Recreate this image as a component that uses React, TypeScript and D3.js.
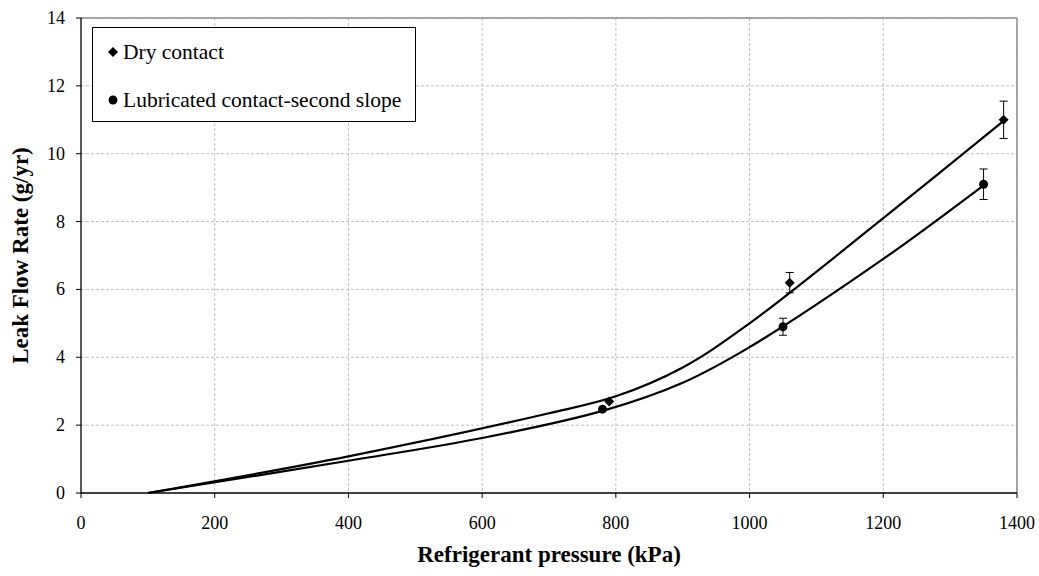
import React from "react";
import * as d3 from "d3";

const xTicks = [0, 200, 400, 600, 800, 1000, 1200, 1400];
const yTicks = [0, 2, 4, 6, 8, 10, 12, 14];

const dryPressure = [790, 1060, 1380];
const dryRate = [2.7, 6.2, 11.0];
const dryErr = [0, 0.3, 0.55];

const lubPressure = [780, 1050, 1350];
const lubRate = [2.47, 4.9, 9.1];
const lubErr = [0, 0.25, 0.45];

const dryFitX = [100, 400, 700, 800, 900, 1000, 1200, 1380];
const dryFitY = [0, 1.08, 2.35, 2.85, 3.7, 5.0, 8.1, 10.97];
const lubFitX = [100, 400, 600, 780, 900, 1000, 1200, 1350];
const lubFitY = [0, 0.95, 1.62, 2.42, 3.25, 4.3, 6.9, 9.07];

const legendLabels = ["Dry contact", "Lubricated contact-second slope"];

export default function App() {
  const W = 1039, H = 576;
  const left = 81, right = 1017, top = 18, bottom = 493;
  const x = d3.scaleLinear().domain([0, 1400]).range([left, right]);
  const y = d3.scaleLinear().domain([0, 14]).range([bottom, top]);
  const font = "'Liberation Serif', 'Times New Roman', serif";
  const line = d3
    .line<[number, number]>()
    .x((d) => x(d[0]))
    .y((d) => y(d[1]))
    .curve(d3.curveCatmullRom.alpha(0.5));
  const dryLine = line(dryFitX.map((v, i) => [v, dryFitY[i]]) as [number, number][]);
  const lubLine = line(lubFitX.map((v, i) => [v, lubFitY[i]]) as [number, number][]);
  const diamond = "M0,-5L5,0L0,5L-5,0Z";
  const circle = d3.symbol().type(d3.symbolCircle).size(62)();

  const errBar = (px: number, py: number, e: number, key: string) =>
    e > 0 ? (
      <g key={key} stroke="#000" strokeWidth={1}>
        <line x1={x(px)} x2={x(px)} y1={y(py - e)} y2={y(py + e)} />
        <line x1={x(px) - 4} x2={x(px) + 4} y1={y(py - e)} y2={y(py - e)} />
        <line x1={x(px) - 4} x2={x(px) + 4} y1={y(py + e)} y2={y(py + e)} />
      </g>
    ) : null;

  return (
    <svg width={W} height={H} style={{ position: "absolute", left: 0, top: 0, background: "#fff" }}>
      <rect x={0} y={0} width={W} height={H} fill="#fff" />
      {xTicks.slice(1).map((t) => (
        <line key={"gx" + t} x1={x(t)} x2={x(t)} y1={top} y2={bottom} stroke="#c0c0c0" strokeWidth={1} strokeDasharray="3,2" />
      ))}
      {yTicks.slice(1).map((t) => (
        <line key={"gy" + t} x1={left} x2={right} y1={y(t)} y2={y(t)} stroke="#c0c0c0" strokeWidth={1} strokeDasharray="3,2" />
      ))}
      <line x1={left} x2={right} y1={top} y2={top} stroke="#8c8c8c" strokeWidth={1.5} />
      <line x1={right} x2={right} y1={top} y2={bottom} stroke="#8c8c8c" strokeWidth={1.5} />
      <line x1={left} x2={left} y1={top} y2={bottom} stroke="#000" strokeWidth={1.3} />
      <line x1={left} x2={right} y1={bottom} y2={bottom} stroke="#000" strokeWidth={1.3} />
      {xTicks.map((t) => (
        <g key={"xt" + t}>
          <line x1={x(t)} x2={x(t)} y1={bottom} y2={bottom + 5} stroke="#000" />
          <text x={x(t)} y={bottom + 36} textAnchor="middle" fontFamily={font} fontSize={18}>
            {t}
          </text>
        </g>
      ))}
      {yTicks.map((t) => (
        <g key={"yt" + t}>
          <line x1={left - 5} x2={left} y1={y(t)} y2={y(t)} stroke="#000" />
          <text x={left - 16} y={y(t) + 6} textAnchor="end" fontFamily={font} fontSize={18}>
            {t}
          </text>
        </g>
      ))}
      <path d={dryLine || ""} fill="none" stroke="#000" strokeWidth={2.2} />
      <path d={lubLine || ""} fill="none" stroke="#000" strokeWidth={2.2} />
      {dryPressure.map((p, i) => errBar(p, dryRate[i], dryErr[i], "de" + i))}
      {lubPressure.map((p, i) => errBar(p, lubRate[i], lubErr[i], "le" + i))}
      {dryPressure.map((p, i) => (
        <path key={"dm" + i} d={diamond} transform={`translate(${x(p)},${y(dryRate[i])})`} fill="#000" />
      ))}
      {lubPressure.map((p, i) => (
        <path key={"lm" + i} d={circle || ""} transform={`translate(${x(p)},${y(lubRate[i])})`} fill="#000" />
      ))}
      <rect x={92.5} y={27.5} width={323} height={94} fill="#fff" stroke="#000" strokeWidth={1} />
      <path d={diamond} transform="translate(113,52)" fill="#000" />
      <text x={123} y={59} fontFamily={font} fontSize={21.5}>
        {legendLabels[0]}
      </text>
      <path d={circle || ""} transform="translate(113,100)" fill="#000" />
      <text x={123} y={107} fontFamily={font} fontSize={21.5}>
        {legendLabels[1]}
      </text>
      <text x={(left + right) / 2} y={562} textAnchor="middle" fontFamily={font} fontSize={23} fontWeight="bold">
        Refrigerant pressure (kPa)
      </text>
      <text
        transform={`translate(28,${(top + bottom) / 2}) rotate(-90)`}
        textAnchor="middle"
        fontFamily={font}
        fontSize={23}
        fontWeight="bold"
      >
        Leak Flow Rate (g/yr)
      </text>
    </svg>
  );
}
